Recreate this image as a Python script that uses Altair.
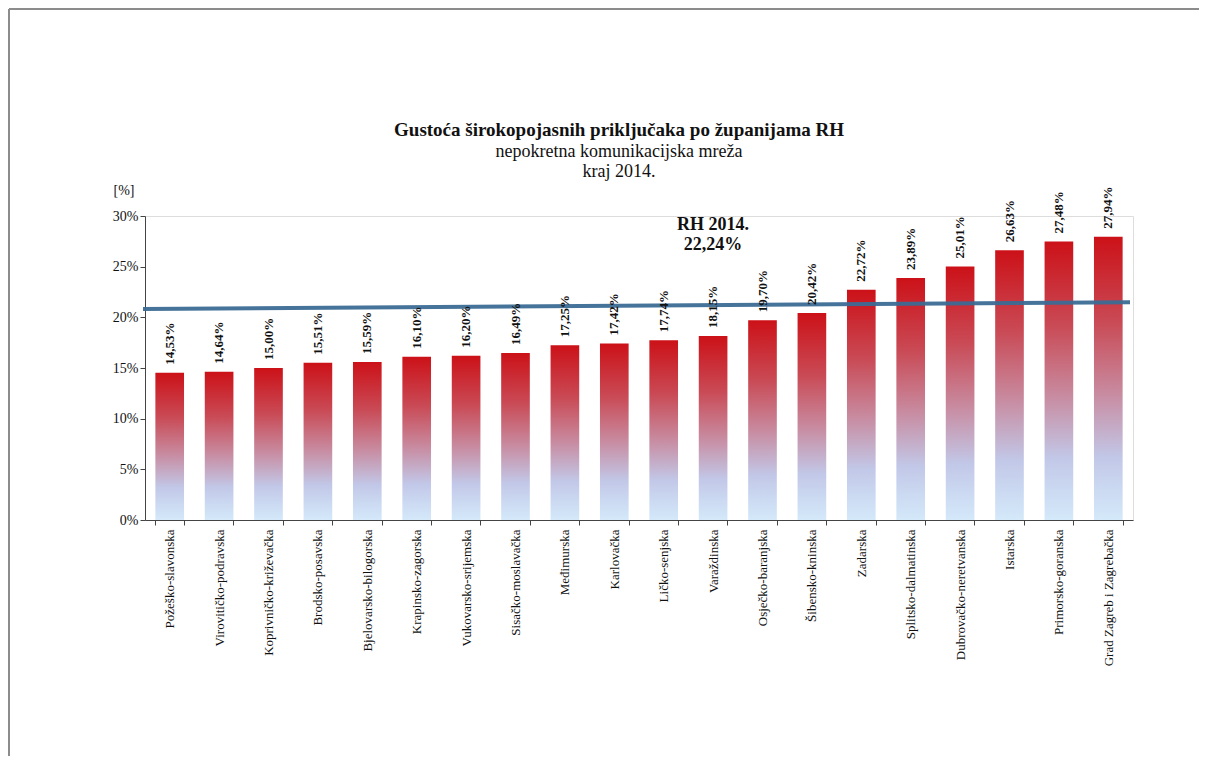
import altair as alt
import pandas as pd

counties = [
    "Požeško-slavonska", "Virovitičko-podravska", "Koprivničko-križevačka",
    "Brodsko-posavska", "Bjelovarsko-bilogorska", "Krapinsko-zagorska",
    "Vukovarsko-srijemska", "Sisačko-moslavačka", "Međimurska", "Karlovačka",
    "Ličko-senjska", "Varaždinska", "Osječko-baranjska", "Šibensko-kninska",
    "Zadarska", "Splitsko-dalmatinska", "Dubrovačko-neretvanska", "Istarska",
    "Primorsko-goranska", "Grad Zagreb i Zagrebačka",
]
density = [14.53, 14.64, 15.00, 15.51, 15.59, 16.10, 16.20, 16.49, 17.25, 17.42,
           17.74, 18.15, 19.70, 20.42, 22.72, 23.89, 25.01, 26.63, 27.48, 27.94]

# blue reference line (as drawn in the original): start / end level
line_start = [20.83]
line_end = [21.5]

annot_county = ["Varaždinska", "Varaždinska"]
annot_y = [29.1, 27.1]
annot_text = ["RH 2014.", "22,24%"]

FONT = "Liberation Serif"

df = pd.DataFrame({"county": counties, "value": density})
df["label"] = [f"{v:.2f}".replace(".", ",") + "%" for v in density]

x_enc = alt.X(
    "county:N", sort=counties, title=None,
    scale=alt.Scale(paddingInner=0.42, paddingOuter=0.21),
    axis=alt.Axis(labelAngle=270, labelFont=FONT, labelFontSize=13, labelColor="#111",
                  tickBand="extent", tickSize=5, tickColor="#444", domainColor="#444",
                  labelPadding=4, labelLimit=300),
)
y_scale = alt.Scale(domain=[0, 30], nice=False)

bars = alt.Chart(df).mark_bar(
    color=alt.Gradient(
        gradient="linear",
        stops=[
            alt.GradientStop(color="#cc1118", offset=0),
            alt.GradientStop(color="#c94a55", offset=0.3),
            alt.GradientStop(color="#c88a9f", offset=0.55),
            alt.GradientStop(color="#c2c8e8", offset=0.78),
            alt.GradientStop(color="#d4e9fa", offset=1),
        ],
        x1=0, x2=0, y1=0, y2=1,
    )
).encode(
    x=x_enc,
    y=alt.Y("value:Q", scale=y_scale, title="[%]",
            axis=alt.Axis(values=[0, 5, 10, 15, 20, 25, 30], labelExpr="datum.value + '%'",
                          labelFont=FONT, labelFontSize=14, labelColor="#111", grid=False,
                          tickSize=5, tickColor="#444", domainColor="#444",
                          titleAngle=0, titleX=-32, titleY=-26, titleAlign="left",
                          titleBaseline="middle", titleFont=FONT, titleFontSize=14,
                          titleFontWeight="normal", titleColor="#111")),
)

line_df = pd.DataFrame({"y0": line_start, "y1": line_end})
avg_line = alt.Chart(line_df).mark_rule(color="#3b6b95", strokeWidth=4, opacity=0.95).encode(
    x=alt.value(-2), x2=alt.value(985),
    y=alt.Y("y0:Q", scale=y_scale), y2="y1:Q",
)

labels = alt.Chart(df).mark_text(
    angle=270, align="left", baseline="middle", dx=8,
    font=FONT, fontSize=13, fontWeight="bold", color="#111",
).encode(x=alt.X("county:N", sort=counties), y=alt.Y("value:Q", scale=y_scale), text="label:N")

annot_df = pd.DataFrame({"county": annot_county, "y": annot_y, "text": annot_text})
annot = alt.Chart(annot_df).mark_text(
    font=FONT, fontSize=18, fontWeight="bold", color="#111", baseline="middle",
).encode(x=alt.X("county:N", sort=counties), y=alt.Y("y:Q", scale=y_scale), text="text:N")

frame_data = alt.Data(values=[{"k": 1}])
frame_top = alt.Chart(frame_data).mark_rule(color="#8c8c8c", strokeWidth=2).encode(
    x=alt.value(-136), x2=alt.value(1054), y=alt.value(-207)
)
frame_left = alt.Chart(frame_data).mark_rule(color="#8c8c8c", strokeWidth=2).encode(
    x=alt.value(-136), y=alt.value(-207), y2=alt.value(540)
)

chart = alt.layer(frame_top, frame_left, bars, avg_line, labels, annot).properties(
    width=988, height=304,
    padding={"left": 0, "top": 0, "right": 0, "bottom": 0},
    title=alt.TitleParams(
        text="Gustoća širokopojasnih priključaka po županijama RH",
        subtitle=["nepokretna komunikacijska mreža", "kraj 2014."],
        font=FONT, fontSize=19, fontWeight="bold", color="#111",
        subtitleFont=FONT, subtitleFontSize=18, subtitleColor="#111",
        subtitleLineHeight=20, subtitlePadding=3,
        anchor="middle", dx=-20, offset=-173,
    ),
).configure_view(stroke=None).configure(background="white", font=FONT)

chart.save("out.html", embed_options={"renderer": "svg", "actions": False})
